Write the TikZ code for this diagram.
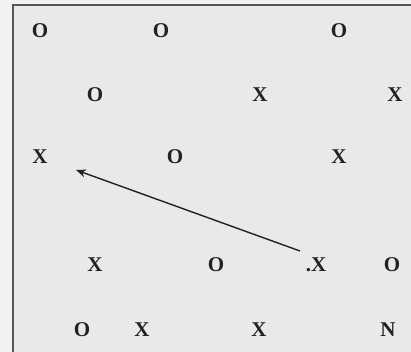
\documentclass[tikz,border=0pt]{standalone}
\usepackage{fontspec}
\setmainfont{Liberation Serif}
\usetikzlibrary{arrows.meta}
\definecolor{bgout}{HTML}{F3F3F3}
\definecolor{bgin}{HTML}{E9E9E9}
\definecolor{frame}{HTML}{555555}
\definecolor{ink}{HTML}{222222}
\tikzset{
  sym/.style={inner sep=0pt, text=ink, font=\fontsize{21}{21}\selectfont\bfseries},
  arr/.style={draw=ink, line width=1.4pt, -{Stealth[length=10pt,width=8pt]}}
}
\begin{document}
\begin{tikzpicture}[x=1pt,y=1pt]
\useasboundingbox (0,0) rectangle (411,352);
\fill[bgout] (0,0) rectangle (411,352);
\fill[bgin] (13,0) rectangle (411,347);
\draw[frame, line width=2.5pt] (13,0) -- (13,347) -- (411,347);
% row 1
\node[sym] (a1) at (40,321) {O};
\node[sym] (a2) at (161,321) {O};
\node[sym] (a3) at (339,321) {O};
% row 2
\node[sym] (b1) at (95,257) {O};
\node[sym] (b2) at (260,257) {X};
\node[sym] (b3) at (395,257) {X};
% row 3
\node[sym] (c1) at (40,195) {X};
\node[sym] (c2) at (175,195) {O};
\node[sym] (c3) at (339,195) {X};
% row 4
\node[sym] (d1) at (95,87) {X};
\node[sym] (d2) at (216,87) {O};
\node[sym] (d3) at (316,87) {.X};
\node[sym] (d4) at (392,87) {O};
% row 5
\node[sym] (e1) at (82,22) {O};
\node[sym] (e2) at (142,22) {X};
\node[sym] (e3) at (259,22) {X};
\node[sym] (e4) at (388,22) {N};
% arrow
\coordinate (from) at (300,101);
\coordinate (to) at (76,182);
\draw[arr] (from) -- (to);
\end{tikzpicture}
\end{document}
